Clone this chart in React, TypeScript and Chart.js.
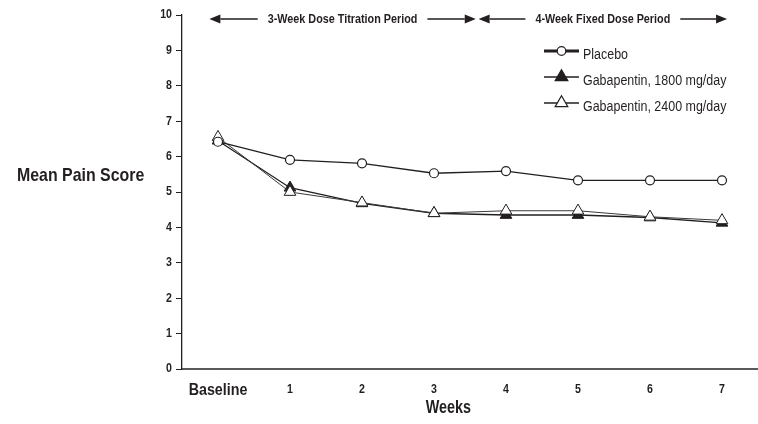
import React, { useEffect, useRef } from "react";
import { Chart, registerables } from "chart.js";
import { drawPoint } from "chart.js/helpers";

Chart.register(...registerables);

// chart values
const weeks = ["Baseline", "1", "2", "3", "4", "5", "6", "7"];
const placebo = [6.42, 5.91, 5.81, 5.53, 5.59, 5.33, 5.33, 5.33];
const gaba1800 = [6.45, 5.12, 4.68, 4.4, 4.35, 4.35, 4.28, 4.13];
const gaba2400 = [6.55, 5.0, 4.7, 4.4, 4.47, 4.47, 4.3, 4.2];
const yTicks = [0, 1, 2, 3, 4, 5, 6, 7, 8, 9, 10];

// study periods drawn as arrows along the top, in x index units
const periods = [
  { label: "3-Week Dose Titration Period", from: -0.12, to: 3.58 },
  { label: "4-Week Fixed Dose Period", from: 3.62, to: 7.07 },
];

const INK = "#231f20";
const SANS = '"Liberation Sans", Arial, sans-serif';

// no narrow face is installed, so squeeze Liberation Sans sideways
function narrowText(
  ctx: CanvasRenderingContext2D,
  text: string,
  x: number,
  y: number,
  font: string,
  sx: number,
  align: CanvasTextAlign = "left"
) {
  ctx.save();
  ctx.font = font;
  ctx.textAlign = align;
  ctx.textBaseline = "middle";
  ctx.fillStyle = INK;
  ctx.translate(x, y);
  ctx.scale(sx, 1);
  ctx.fillText(text, 0, 0);
  ctx.restore();
}

function narrowWidth(ctx: CanvasRenderingContext2D, text: string, font: string, sx: number) {
  ctx.save();
  ctx.font = font;
  const w = ctx.measureText(text).width * sx;
  ctx.restore();
  return w;
}

const periodArrows = {
  id: "periodArrows",
  afterDraw(chart: any) {
    const { ctx, scales } = chart;
    const x = scales.x;
    const y = 19;
    const head = 11;
    const font = `bold 13.5px ${SANS}`;
    ctx.save();
    ctx.fillStyle = INK;
    ctx.strokeStyle = INK;
    ctx.lineWidth = 1.5;
    periods.forEach((p) => {
      const x1 = x.getPixelForValue(p.from);
      const x2 = x.getPixelForValue(p.to);
      const cx = (x1 + x2) / 2;
      const w = narrowWidth(ctx, p.label, font, 0.8);
      narrowText(ctx, p.label, cx, y, font, 0.8, "center");
      ctx.beginPath();
      ctx.moveTo(x1 + head, y);
      ctx.lineTo(cx - w / 2 - 10, y);
      ctx.moveTo(cx + w / 2 + 10, y);
      ctx.lineTo(x2 - head, y);
      ctx.stroke();
      ctx.beginPath();
      ctx.moveTo(x1, y);
      ctx.lineTo(x1 + head, y - 4.5);
      ctx.lineTo(x1 + head, y + 4.5);
      ctx.closePath();
      ctx.fill();
      ctx.beginPath();
      ctx.moveTo(x2, y);
      ctx.lineTo(x2 - head, y - 4.5);
      ctx.lineTo(x2 - head, y + 4.5);
      ctx.closePath();
      ctx.fill();
    });
    ctx.restore();
  },
};

const textLayer = {
  id: "textLayer",
  afterDraw(chart: any) {
    const { ctx, scales, chartArea } = chart;

    // legend inside the plot, top right
    const left = 544;
    const len = 35;
    const lineWidths = [3, 1.3, 1.3];
    const radii = [4.3, 7.3, 7.3];
    ctx.save();
    chart.data.datasets.forEach((ds: any, i: number) => {
      const y = 51 + i * 26;
      ctx.strokeStyle = INK;
      ctx.lineWidth = lineWidths[i];
      ctx.beginPath();
      ctx.moveTo(left, y);
      ctx.lineTo(left + len, y);
      ctx.stroke();
      ctx.fillStyle = ds.pointBackgroundColor;
      ctx.strokeStyle = INK;
      ctx.lineWidth = 1.2;
      drawPoint(ctx, { pointStyle: ds.pointStyle, radius: radii[i], borderWidth: 1.2, rotation: 0 }, left + len / 2, y);
      narrowText(ctx, ds.label, left + len + 4, y + 4, `14px ${SANS}`, 0.89);
    });
    ctx.restore();

    // y tick labels
    scales.y.ticks.forEach((t: any, i: number) => {
      const py = scales.y.getPixelForTick(i);
      narrowText(ctx, String(t.value), chartArea.left - 10, py, `bold 12.5px ${SANS}`, 0.85, "right");
    });

    // x tick labels
    chart.data.labels.forEach((lab: string, i: number) => {
      const px = scales.x.getPixelForValue(i);
      const font = i === 0 ? `bold 17px ${SANS}` : `bold 12.5px ${SANS}`;
      narrowText(ctx, lab, px, 390, font, i === 0 ? 0.84 : 0.85, "center");
    });

    // axis titles
    narrowText(ctx, "Weeks", scales.x.getPixelForValue(3.2), 408, `bold 18px ${SANS}`, 0.8, "center");
    narrowText(ctx, "Mean Pain Score", 17, 176, `bold 18.5px ${SANS}`, 0.86);
  },
};

export default function App() {
  const canvasRef = useRef<HTMLCanvasElement>(null);

  useEffect(() => {
    document.body.style.margin = "0";
    document.body.style.overflow = "hidden";
    if (!canvasRef.current) return;
    const chart = new Chart(canvasRef.current, {
      type: "line",
      data: {
        labels: weeks,
        datasets: [
          {
            label: "Placebo",
            data: placebo,
            borderColor: INK,
            borderWidth: 1.3,
            pointStyle: "circle",
            pointRadius: 4.5,
            pointBackgroundColor: "#ffffff",
            pointBorderColor: INK,
            pointBorderWidth: 1.2,
            order: 0,
          },
          {
            label: "Gabapentin, 1800 mg/day",
            data: gaba1800,
            borderColor: INK,
            borderWidth: 1.3,
            pointStyle: "triangle",
            pointRadius: 6.7,
            pointBackgroundColor: INK,
            pointBorderColor: INK,
            pointBorderWidth: 1,
            order: 2,
          },
          {
            label: "Gabapentin, 2400 mg/day",
            data: gaba2400,
            borderColor: "#3a3a3a",
            borderWidth: 1,
            pointStyle: "triangle",
            pointRadius: 6.7,
            pointBackgroundColor: "#ffffff",
            pointBorderColor: INK,
            pointBorderWidth: 1,
            order: 1,
          },
        ],
      },
      options: {
        responsive: true,
        maintainAspectRatio: false,
        animation: false,
        events: [],
        layout: { autoPadding: false, padding: { left: 122, top: 15, right: 0, bottom: 0 } },
        plugins: {
          legend: { display: false },
          tooltip: { enabled: false },
        },
        scales: {
          x: {
            offset: true,
            grid: { display: false, drawTicks: false },
            border: { display: true, color: "#5a5a5a", width: 2 },
            ticks: { display: false },
            afterFit: (s: any) => {
              s.height = 55;
              s.paddingLeft = 0;
              s.paddingRight = 0;
            },
          },
          y: {
            min: 0,
            max: 10,
            afterBuildTicks: (s: any) => {
              s.ticks = yTicks.map((v) => ({ value: v }));
            },
            grid: {
              drawOnChartArea: false,
              drawTicks: true,
              tickLength: 6,
              color: INK,
              lineWidth: 1,
            },
            border: { display: true, color: INK, width: 1.3 },
            ticks: {
              color: "rgba(0,0,0,0)",
              font: { size: 10 },
            },
            afterFit: (s: any) => {
              s.width = 60;
            },
          },
        },
      },
      plugins: [periodArrows, textLayer],
    });
    return () => chart.destroy();
  }, []);

  return (
    <div style={{ position: "relative", width: 758, height: 424, overflow: "hidden" }}>
      <canvas ref={canvasRef} style={{ display: "block" }} />
    </div>
  );
}
